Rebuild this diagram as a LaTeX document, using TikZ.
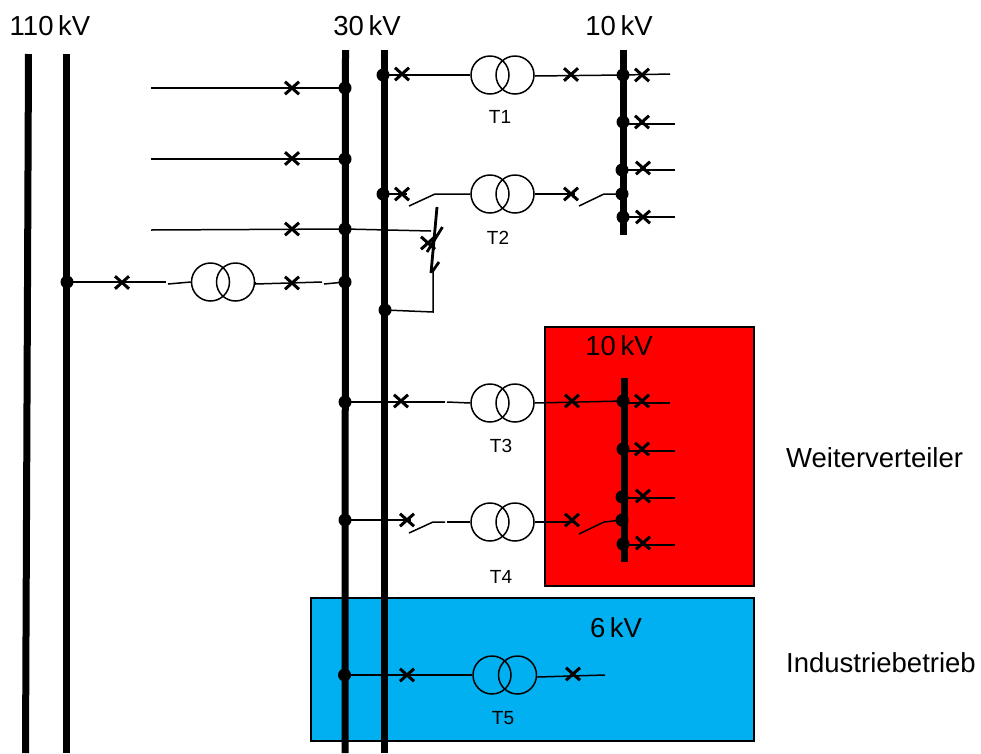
\documentclass[tikz,border=0pt]{standalone}
\usepackage{fontspec}
\setmainfont{Liberation Sans}
\usetikzlibrary{shapes.misc}
\tikzset{
  busbar/.style={line width=7pt},
  wire/.style={line width=1.5pt},
  dotnode/.style={circle,fill=black,inner sep=0pt,minimum size=13pt},
  brk/.style={cross out,draw=black,line width=3pt,inner sep=0pt,minimum width=11pt,minimum height=9.5pt},
  coil/.style={circle,draw=black,line width=1.5pt,inner sep=0pt,minimum size=38pt},
  area/.style={draw=black,line width=1.2pt},
  volt/.style={font=\fontsize{27.5}{30}\selectfont,inner sep=0pt},
  tlabel/.style={font=\fontsize{19}{22}\selectfont,inner sep=0pt},
  sidelabel/.style={font=\fontsize{27.5}{31}\selectfont,inner sep=0pt,anchor=west},
}
\begin{document}
\begin{tikzpicture}[x=1pt,y=-1pt]
\useasboundingbox (0,0) rectangle (981,753);
\definecolor{zonered}{HTML}{FF0000}
\definecolor{zoneblue}{HTML}{00B0F0}
% zones
\node[area,fill=zonered,minimum width=209pt,minimum height=259pt,inner sep=0pt] (red) at (649.5,456.5) {};
\node[area,fill=zoneblue,minimum width=443pt,minimum height=143pt,inner sep=0pt] (blue) at (532.5,669.5) {};
% bus bars
\coordinate (a1t) at (28.5,54); \coordinate (a1b) at (25.5,753);
\coordinate (a2t) at (66.5,54); \coordinate (a2b) at (66.5,753);
\coordinate (b1t) at (345.5,50); \coordinate (b1b) at (345,753);
\coordinate (b2t) at (384,50); \coordinate (b2b) at (384,753);
\coordinate (c1t) at (623.5,50); \coordinate (c1b) at (623.5,235);
\coordinate (c2t) at (624,378); \coordinate (c2b) at (624,562);
\foreach \p in {a1,a2,b1,b2,c1,c2}{\draw[busbar] (\p t) -- (\p b);}
% junctions
\node[dotnode] (jf1) at (345,88) {};
\node[dotnode] (jf2) at (345,159) {};
\node[dotnode] (jf3) at (345,229) {};
\node[dotnode] (jt0a) at (67,282) {};
\node[dotnode] (jt0b) at (345,282) {};
\node[dotnode] (j1) at (383,75) {};
\node[dotnode] (j2) at (383,194) {};
\node[dotnode] (js) at (385,310) {};
\node[dotnode] (j3) at (345,402) {};
\node[dotnode] (j4) at (345,520) {};
\node[dotnode] (j5) at (344.5,675) {};
\node[dotnode] (k1) at (623,75) {};
\node[dotnode] (k1b) at (623,122) {};
\node[dotnode] (k1c) at (622,170) {};
\node[dotnode] (k2) at (622,194) {};
\node[dotnode] (k1d) at (623,217) {};
\node[dotnode] (m3) at (623,401) {};
\node[dotnode] (m3b) at (623,449) {};
\node[dotnode] (m3c) at (622,497) {};
\node[dotnode] (m4) at (622,520) {};
\node[dotnode] (m3d) at (623,544) {};
% transformers
\node[coil] (t0a) at (210.5,282) {}; \node[coil] (t0b) at (235.5,282) {};
\node[coil] (t1a) at (490,75) {}; \node[coil] (t1b) at (515,75) {};
\node[coil] (t2a) at (490,194) {}; \node[coil] (t2b) at (515,194) {};
\node[coil] (t3a) at (490,403) {}; \node[coil] (t3b) at (515,403) {};
\node[coil] (t4a) at (490,522) {}; \node[coil] (t4b) at (515,522) {};
\node[coil] (t5a) at (492,675) {}; \node[coil] (t5b) at (517.5,675) {};
% free ends
\coordinate (f1) at (151,88); \coordinate (f2) at (151,159); \coordinate (f3) at (151,230);
\coordinate (o1) at (670,74); \coordinate (o2) at (675,124); \coordinate (o3) at (675,170); \coordinate (o4) at (675,217);
\coordinate (p1) at (670,403); \coordinate (p2) at (675,451); \coordinate (p3) at (675,498); \coordinate (p4) at (675,545);
\coordinate (q5) at (605,675);
% feeders
\draw[wire] (f1) -- (jf1.center);
\draw[wire] (f2) -- (jf2.center);
\draw[wire] (f3) -- (jf3.center);
% 110 kV transformer
\coordinate (s0a) at (166,282); \coordinate (s0b) at (168,284);
\coordinate (s0c) at (322,282); \coordinate (s0d) at (324,284);
\draw[wire] (jt0a.center) -- (s0a);
\draw[wire] (s0b) -- (t0a.west);
\draw[wire] (t0b.east) -- ++(0,2) -- (s0c);
\draw[wire] (s0d) -- (jt0b.center);
% T1
\draw[wire] (j1.center) -- (t1a.west);
\draw[wire] (t1b.east) ++(0,1) -- (k1.center);
% T2
\coordinate (s2a) at (409,206); \coordinate (s2b) at (435,194);
\coordinate (s2c) at (579,206); \coordinate (s2d) at (604,194);
\coordinate (s2e) at (407,194); \coordinate (s2f) at (575,194);
\draw[wire] (j2.center) -- (s2e);
\draw[wire] (s2a) -- (s2b) -- (t2a.west);
\draw[wire] (t2b.east) -- (s2f);
\draw[wire] (s2c) -- (s2d) -- (k2.center);
% T3
\coordinate (g3a) at (445,402); \coordinate (g3b) at (447,402);
\draw[wire] (j3.center) -- (g3a);
\draw[wire] (g3b) -- (t3a.west);
\draw[wire] (t3b.east) -- (m3.center);
% T4
\coordinate (s4a) at (409,533); \coordinate (s4b) at (433,522); \coordinate (s4c) at (445,522);
\coordinate (s4d) at (447,522); \coordinate (s4e) at (411,520);
\coordinate (s4f) at (579,534); \coordinate (s4g) at (604,522); \coordinate (s4h) at (575,522);
\draw[wire] (j4.center) -- (s4e);
\draw[wire] (s4a) -- (s4b) -- (s4c);
\draw[wire] (s4d) -- (t4a.west);
\draw[wire] (t4b.east) -- (s4h);
\draw[wire] (s4f) -- (s4g) -- (m4.center);
% T5
\draw[wire] (j5.center) -- (t5a.west);
\draw[wire] (t5b.east) ++(0,2) -- (q5);
% outgoing 10 kV
\draw[wire] (k1.center) -- (o1);
\draw[wire] (k1b.center) ++(0,2) -- (o2);
\draw[wire] (k1c.center) -- (o3);
\draw[wire] (k1d.center) -- (o4);
\draw[wire] (m3.center) ++(0,2) -- (p1);
\draw[wire] (m3b.center) ++(0,2) -- (p2);
\draw[wire] (m3c.center) ++(0,1) -- (p3);
\draw[wire] (m3d.center) ++(0,1) -- (p4);
% coupling with fault symbol
\coordinate (sa) at (431,231); \coordinate (sb) at (433,272); \coordinate (sc) at (433,312);
\coordinate (z1) at (437,207); \coordinate (z2) at (431,273);
\coordinate (z3) at (442.5,227); \coordinate (z4) at (427,252);
\coordinate (z5) at (439,262); \coordinate (z6) at (432,272);
\draw[wire] (jf3.center) -- (sa);
\draw[wire] (sb) -- (sc) -- (js.center);
\draw[line width=2.8pt] (z1) -- (z2);
\draw[line width=2.8pt] (z3) -- (z4);
\draw[line width=2.8pt] (z5) -- (z6);
% breakers
\node[brk] (x1) at (292,88) {};
\node[brk] (x2) at (292,158.5) {};
\node[brk] (x3) at (292,229) {};
\node[brk] (x4) at (122,282.5) {};
\node[brk] (x5) at (292,283) {};
\node[brk] (x6) at (402,74) {};
\node[brk] (x7) at (571,74.5) {};
\node[brk] (x8) at (642,75) {};
\node[brk] (x9) at (642,122) {};
\node[brk] (x10) at (643,168) {};
\node[brk] (x11) at (643,217) {};
\node[brk] (x12) at (402,194) {};
\node[brk] (x13) at (571,194) {};
\node[brk] (x14) at (428,243) {};
\node[brk] (x15) at (401,401) {};
\node[brk] (x16) at (572,401) {};
\node[brk] (x17) at (642,401) {};
\node[brk] (x18) at (642,449) {};
\node[brk] (x19) at (643,496) {};
\node[brk] (x20) at (643,543) {};
\node[brk] (x21) at (407,520) {};
\node[brk] (x22) at (572,520) {};
\node[brk] (x23) at (407,675) {};
\node[brk] (x24) at (573,674) {};
% labels
\node[volt] (l110) at (50,26) {110\,kV};
\node[volt] (l30) at (367,26) {30\,kV};
\node[volt] (l10a) at (619,26) {10\,kV};
\node[volt] (l10b) at (619,346) {10\,kV};
\node[volt] (l6) at (616,628) {6\,kV};
\node[tlabel] (lt1) at (500,117) {T1};
\node[tlabel] (lt2) at (498,238) {T2};
\node[tlabel] (lt3) at (501,446) {T3};
\node[tlabel] (lt4) at (501,577) {T4};
\node[tlabel] (lt5) at (503,718) {T5};
\node[sidelabel] (lw) at (786,458) {Weiterverteiler};
\node[sidelabel] (li) at (786,663) {Industriebetrieb};
\end{tikzpicture}
\end{document}
